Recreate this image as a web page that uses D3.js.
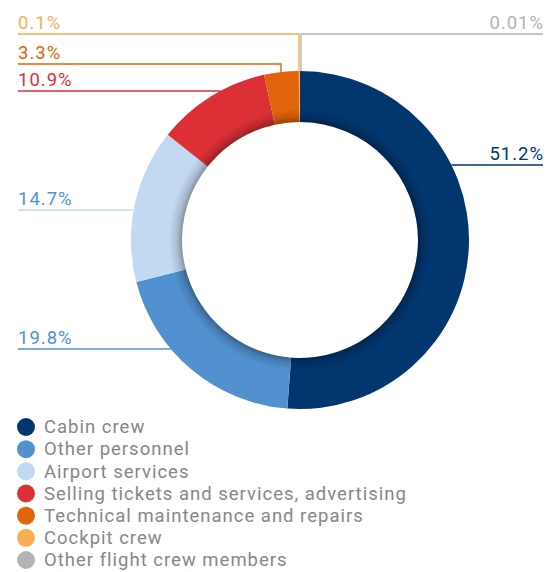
<!DOCTYPE html>
<html>
<head>
<meta charset="utf-8">
<script src="https://cdn.jsdelivr.net/npm/d3@7"></script>
<style>
  html, body { margin: 0; padding: 0; background: #fff; }
  svg { display: block; font-family: Roboto, "Open Sans", sans-serif; }
</style>
</head>
<body>
<svg id="chart" width="560" height="572"></svg>
<script>
// Staff structure by category, % of headcount
const categories = [
  "Cabin crew",
  "Other personnel",
  "Airport services",
  "Selling tickets and services, advertising",
  "Technical maintenance and repairs",
  "Cockpit crew",
  "Other flight crew members"
];
const shares = [51.2, 19.8, 14.7, 10.9, 3.3, 0.1, 0.01];
const valueLabels = ["51.2%", "19.8%", "14.7%", "10.9%", "3.3%", "0.1%", "0.01%"];

const sliceColors = ["#02366f", "#5291d0", "#c3d9f1", "#dc3036", "#e1650a", "#f8ae52", "#b4b4b4"];
const labelColors = ["#02366f", "#5291d0", "#5291d0", "#dc3036", "#e1650a", "#f8ae52", "#b4b4b4"];

// Callout placement: side of the chart, height of the underline, and whether
// the leader drops vertically onto the ring (used for the thin top slices).
const calloutSide = ["right", "left", "left", "left", "left", "left", "right"];
const calloutY = [165, 349, 210, 91, 64, 34, 34];
const calloutElbow = [false, false, false, false, true, true, true];

const svg = d3.select("#chart");
const cx = 300, cy = 240;
const rOuter = 169, rInner = 118;
const leftX = 18, rightX = 543;
const fontSize = 18.5, tracking = 1.0;

const pie = d3.pie().sort(null).value(d => d)(shares);
const arc = d3.arc().innerRadius(rInner).outerRadius(rOuter);

const defs = svg.append("defs");
const shade = defs.append("radialGradient")
  .attr("id", "innerShade")
  .attr("gradientUnits", "userSpaceOnUse")
  .attr("cx", 0).attr("cy", 0).attr("r", rOuter);
shade.append("stop").attr("offset", rInner / rOuter).attr("stop-color", "#000").attr("stop-opacity", 0.32);
shade.append("stop").attr("offset", (rInner + 5) / rOuter).attr("stop-color", "#000").attr("stop-opacity", 0.14);
shade.append("stop").attr("offset", (rInner + 13) / rOuter).attr("stop-color", "#000").attr("stop-opacity", 0);

const ring = svg.append("g").attr("transform", `translate(${cx},${cy})`);
ring.selectAll("path.slice")
  .data(pie)
  .join("path")
  .attr("class", "slice")
  .attr("d", arc)
  .attr("fill", (d, i) => sliceColors[i]);

ring.append("path")
  .attr("d", d3.arc().innerRadius(rInner).outerRadius(rOuter)({ startAngle: 0, endAngle: 2 * Math.PI }))
  .attr("fill", "url(#innerShade)");

// Callouts
const callouts = svg.append("g");
pie.forEach((d, i) => {
  const side = calloutSide[i];
  const y = calloutY[i];
  const endX = side === "left" ? leftX : rightX;
  let pts;
  if (calloutElbow[i]) {
    const mid = (d.startAngle + d.endAngle) / 2;
    let ex = cx + rOuter * Math.sin(mid);
    ex = side === "left" ? Math.floor(ex) : Math.ceil(ex) + 1;
    const ey = cy - Math.sqrt(rOuter * rOuter - (ex - cx) * (ex - cx));
    pts = [[endX, y], [ex, y], [ex, ey]];
  } else {
    const dx = Math.sqrt(rOuter * rOuter - (y - cy) * (y - cy));
    const ex = side === "left" ? cx - dx : cx + dx;
    pts = [[endX, y], [ex, y]];
  }
  callouts.append("path")
    .attr("d", d3.line()(pts))
    .attr("fill", "none")
    .attr("stroke", i === 2 ? sliceColors[i] : labelColors[i])
    .attr("stroke-width", 1.4);
  callouts.append("text")
    .attr("x", side === "left" ? endX : endX + tracking)
    .attr("y", y - 5)
    .attr("text-anchor", side === "left" ? "start" : "end")
    .attr("fill", labelColors[i])
    .attr("font-size", fontSize)
    .attr("letter-spacing", tracking)
    .text(valueLabels[i]);
});

// Legend
const legendY = d3.scalePoint().domain(categories).range([427, 560]);
const legend = svg.append("g");
const rows = legend.selectAll("g")
  .data(categories)
  .join("g")
  .attr("transform", d => `translate(0,${legendY(d)})`);
rows.append("circle")
  .attr("cx", 26).attr("cy", 0).attr("r", 9)
  .attr("fill", (d, i) => sliceColors[i]);
rows.append("text")
  .attr("x", 44).attr("y", 0)
  .attr("dy", "0.34em")
  .attr("fill", "#878787")
  .attr("font-size", fontSize)
  .attr("letter-spacing", tracking)
  .text(d => d);
</script>
</body>
</html>
